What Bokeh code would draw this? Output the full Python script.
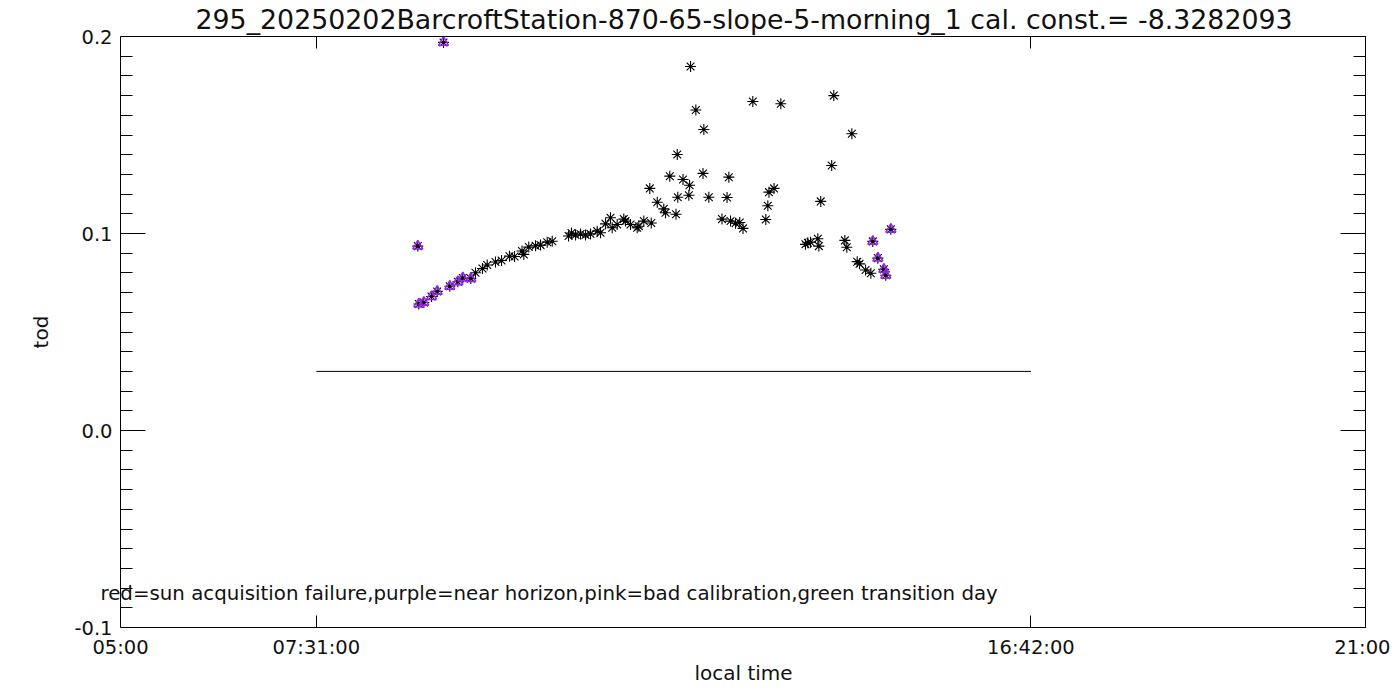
from bokeh.plotting import figure
from bokeh.models import Range1d, LinearAxis, FixedTicker, Label, PrintfTickFormatter, Title
from bokeh.embed import file_html
from bokeh.resources import INLINE

# ---------------- data (local time in decimal hours, tod) ----------------
times_h = [9.562, 9.652, 9.713, 9.819, 9.897, 9.999, 10.064, 10.160, 10.183, 10.247,
           10.334, 10.398, 10.484, 10.548, 10.758, 10.796, 10.848, 10.912, 10.976, 11.040,
           11.126, 11.169, 11.233, 11.297, 11.319, 11.383, 11.468, 11.490, 11.554, 11.640,
           11.661, 11.725, 11.821, 11.802, 11.898, 11.982, 12.004, 12.059, 12.139, 12.155,
           12.162, 12.229, 12.304, 12.313, 12.326, 12.394, 12.486, 12.497, 12.561, 12.730,
           12.795, 12.818, 12.840, 12.904, 12.958, 13.000, 13.126, 13.293, 13.319, 13.334,
           13.399, 13.486, 13.803, 13.833, 13.868, 13.962, 13.975, 13.999, 14.140, 14.167,
           14.309, 14.334, 14.399, 14.468, 14.498, 14.575, 14.643]
tod = [0.0801, 0.0822, 0.0840, 0.0855, 0.0863, 0.0885, 0.0883, 0.0911, 0.0894, 0.0931,
       0.0938, 0.0941, 0.0956, 0.0961, 0.0987, 0.1002, 0.0992, 0.0997, 0.0992, 0.0998,
       0.1012, 0.1004, 0.1049, 0.1080, 0.1029, 0.1046, 0.1073, 0.1063, 0.1046, 0.1029,
       0.1037, 0.1063, 0.1053, 0.1229, 0.1159, 0.1125, 0.1105, 0.1291, 0.1098, 0.1401,
       0.1184, 0.1274, 0.1194, 0.1245, 0.1848, 0.1627, 0.1305, 0.1528, 0.1184, 0.1073,
       0.1183, 0.1286, 0.1063, 0.1052, 0.1056, 0.1026, 0.1670, 0.1071, 0.1141, 0.1210,
       0.1229, 0.1659, 0.0945, 0.0953, 0.0956, 0.0973, 0.0936, 0.1163, 0.1345, 0.1700,
       0.0965, 0.0930, 0.1506, 0.0857, 0.0846, 0.0815, 0.0798]

# points flagged as near horizon (purple)
horizon_times_h = [8.821, 9.151, 8.834, 8.898, 8.997, 9.070, 9.232, 9.335, 9.399, 9.502,
                   14.668, 14.733, 14.810, 14.835, 14.900]
horizon_tod = [0.0936, 0.1970, 0.0642, 0.0650, 0.0680, 0.0706, 0.0732, 0.0755, 0.0774, 0.0771,
               0.0960, 0.0875, 0.0818, 0.0788, 0.1021]

x_tick_values = [5.0, 7.516666666666667, 16.7, 21.0]
x_tick_labels = ["05:00", "07:31:00", "16:42:00", "21:00"]
y_major_ticks = [-0.1, 0.0, 0.1, 0.2]
y_minor_ticks = [-0.09, -0.08, -0.07, -0.06, -0.05, -0.04, -0.03, -0.02, -0.01,
                 0.01, 0.02, 0.03, 0.04, 0.05, 0.06, 0.07, 0.08, 0.09,
                 0.11, 0.12, 0.13, 0.14, 0.15, 0.16, 0.17, 0.18, 0.19]
line_start = [7.516666666666667]
line_end = [16.7]
line_level = [0.03]

title_text = "295_20250202BarcroftStation-870-65-slope-5-morning_1 cal. const.= -8.3282093"
x_label_text = "local time"
y_label_text = "tod"
note_text = "red=sun acquisition failure,purple=near horizon,pink=bad calibration,green transition day"
note_x = 4.743      # local time (h) where the note starts (just left of the 05:00 axis)
note_y = -0.0828    # tod level of the note

X_MIN, X_MAX = 5.0, 21.0
Y_MIN, Y_MAX = -0.1, 0.2

FONT = "DejaVu Sans"
PURPLE = "#9a1ff0"
INK = "#111111"

# The frame extends a little to the left of the 05:00 axis so that the note
# (which starts left of that axis in the original) is not clipped.
W, H = 1390, 690
FRAME_LEFT, AXIS_LEFT, FRAME_RIGHT = 95, 120, 1365
px_per_h = (FRAME_RIGHT - AXIS_LEFT) / (X_MAX - X_MIN)
x_lo = X_MIN - (AXIS_LEFT - FRAME_LEFT) / px_per_h

p = figure(width=W, height=H,
           x_range=Range1d(x_lo, X_MAX), y_range=Range1d(Y_MIN, Y_MAX),
           x_axis_location=None, y_axis_location=None,
           output_backend="svg", toolbar_location=None,
           min_border_left=FRAME_LEFT, min_border_right=W - FRAME_RIGHT,
           min_border_top=35, min_border_bottom=63)
p.xgrid.grid_line_color = None
p.ygrid.grid_line_color = None
p.outline_line_color = None
p.background_fill_color = "white"
p.border_fill_color = "white"

# main title, centred over the 05:00-21:00 box
p.title.text = title_text
p.title.align = "left"
p.title.offset = 100
p.title.text_font = FONT
p.title.text_font_size = "26.8px"
p.title.text_font_style = "normal"
p.title.text_color = INK
p.title.standoff = 3

overrides = {v: lab for v, lab in zip(x_tick_values, x_tick_labels)}


def style_axis(ax):
    ax.axis_line_color = "black"
    ax.major_tick_line_color = "black"
    ax.minor_tick_line_color = "black"
    ax.major_tick_out = 0
    ax.minor_tick_out = 0
    ax.major_label_text_font = FONT
    ax.major_label_text_font_size = "19.5px"
    ax.major_label_text_color = INK
    ax.axis_label_text_font = FONT
    ax.axis_label_text_font_size = "20px"
    ax.axis_label_text_font_style = "normal"
    ax.axis_label_text_color = INK


bottom = LinearAxis(ticker=FixedTicker(ticks=x_tick_values, minor_ticks=[]),
                    major_label_overrides=overrides, bounds=(X_MIN, X_MAX))
style_axis(bottom)
bottom.major_tick_in = 12
bottom.major_label_standoff = 8
p.add_layout(bottom, "below")

x_title = Title(text=x_label_text, align="left", offset=599, text_font=FONT,
                text_font_size="20px", text_font_style="normal", text_color=INK,
                standoff=-5)
p.add_layout(x_title, "below")

top = LinearAxis(ticker=FixedTicker(ticks=x_tick_values, minor_ticks=[]),
                 bounds=(X_MIN, X_MAX))
style_axis(top)
top.major_tick_in = 12
top.major_label_text_font_size = "0px"
top.major_label_standoff = 0
p.add_layout(top, "above")

# left axis line + ticks at 05:00 (inside the frame)
left = LinearAxis(ticker=FixedTicker(ticks=y_major_ticks, minor_ticks=y_minor_ticks),
                  fixed_location=X_MIN)
style_axis(left)
left.major_tick_in = 25
left.minor_tick_in = 12
left.major_label_text_font_size = "0px"
p.add_layout(left, "left")

# left tick labels + axis title (in the side panel, shifted to sit next to 05:00)
left_labels = LinearAxis(ticker=FixedTicker(ticks=y_major_ticks, minor_ticks=[]),
                         formatter=PrintfTickFormatter(format="%.1f"),
                         axis_label=y_label_text)
style_axis(left_labels)
left_labels.axis_line_color = None
left_labels.major_tick_line_color = None
left_labels.minor_tick_line_color = None
left_labels.major_tick_in = 0
left_labels.major_label_standoff = -17
left_labels.axis_label_standoff = 18
p.add_layout(left_labels, "left")

right = LinearAxis(ticker=FixedTicker(ticks=y_major_ticks, minor_ticks=y_minor_ticks))
style_axis(right)
right.major_tick_in = 25
right.minor_tick_in = 12
right.major_label_text_font_size = "0px"
right.major_label_standoff = 0
p.add_layout(right, "right")

# horizontal reference line
p.segment(x0=line_start, x1=line_end, y0=line_level, y1=line_level,
          line_color="black", line_width=1)

# all points: asterisks
all_x = times_h + horizon_times_h
all_y = tod + horizon_tod
p.scatter(all_x, all_y, marker="asterisk", size=11, line_color="black", line_width=1.1)
p.scatter(all_x, all_y, marker="circle", size=3, fill_color="black", line_color=None)

# near-horizon points: purple open triangles
p.scatter(horizon_times_h, horizon_tod, marker="triangle", size=10,
          fill_color=None, line_color=PURPLE, line_width=1.5)

note = Label(x=note_x, y=note_y, text=note_text,
             text_font=FONT, text_font_size="19.8px", text_baseline="middle",
             text_align="left", text_color=INK)
p.add_layout(note)

open("out.html", "w").write(file_html(p, INLINE))
